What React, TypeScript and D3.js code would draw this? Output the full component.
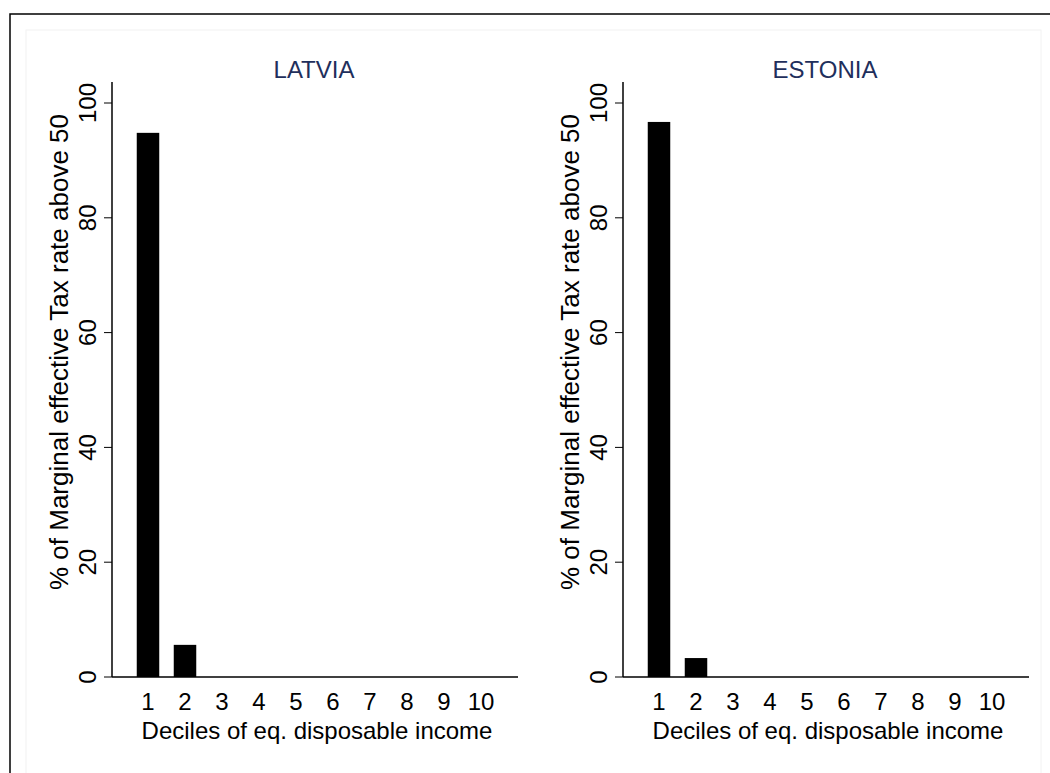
import React from "react";
import * as d3 from "d3";

const deciles = ["1","2","3","4","5","6","7","8","9","10"];
const latvia = [94.8, 5.6, 0, 0, 0, 0, 0, 0, 0, 0];
const estonia = [96.7, 3.3, 0, 0, 0, 0, 0, 0, 0, 0];
const yTicks = [0, 20, 40, 60, 80, 100];
const panels = [
  { title: "LATVIA", values: latvia, x0: 112, x1: 518 },
  { title: "ESTONIA", values: estonia, x0: 623, x1: 1029 },
];

const FONT = "Liberation Sans, Arial, sans-serif";

function Panel({ p }: { p: typeof panels[0] }) {
  const y = d3.scaleLinear().domain([0, 100]).range([677, 103]);
  const x = d3.scaleLinear().domain([1, 10]).range([p.x0 + 36, p.x0 + 369]);
  const bw = 22.5;
  return (
    <g>
      <text x={(p.x0 + p.x1) / 2 - 1} y={78} textAnchor="middle" fontSize={24} fill="#1f2f5c" fontFamily={FONT}>{p.title}</text>
      <line x1={p.x0} x2={p.x0} y1={82} y2={677} stroke="#000" strokeWidth={1.5} />
      <line x1={p.x0} x2={p.x1} y1={677} y2={677} stroke="#000" strokeWidth={1.5} />
      {yTicks.map(t => (
        <g key={t}>
          <line x1={p.x0 - 8} x2={p.x0} y1={y(t)} y2={y(t)} stroke="#000" strokeWidth={1} />
          <text transform={`translate(${p.x0 - 16},${y(t)}) rotate(-90)`} textAnchor="middle" fontSize={24} fontFamily={FONT}>{t}</text>
        </g>
      ))}
      <text transform={`translate(${p.x0 - 44},${352}) rotate(-90)`} textAnchor="middle" fontSize={26} fontFamily={FONT}>% of Marginal effective Tax rate above 50</text>
      {p.values.map((v, i) => (
        <rect key={i} x={x(i + 1) - bw / 2} width={bw} y={y(v)} height={y(0) - y(v)} fill="#000" />
      ))}
      {deciles.map((d, i) => (
        <text key={d} x={x(i + 1)} y={710} textAnchor="middle" fontSize={24} fontFamily={FONT}>{d}</text>
      ))}
      <text x={(p.x0 + p.x1) / 2 + 2} y={739} textAnchor="middle" fontSize={24} fontFamily={FONT}>Deciles of eq. disposable income</text>
    </g>
  );
}

export default function App() {
  return (
    <svg width={1050} height={773} style={{ position: "absolute", left: 0, top: 0 }}>
      <rect x={0} y={0} width={1050} height={773} fill="#fff" />
      <rect x={10} y={14} width={1050} height={800} fill="none" stroke="#000" strokeWidth={1.5} />
      <rect x={26} y={30} width={1015} height={800} fill="none" stroke="#f2f2f2" strokeWidth={1} />
      {panels.map(p => <Panel key={p.title} p={p} />)}
    </svg>
  );
}
